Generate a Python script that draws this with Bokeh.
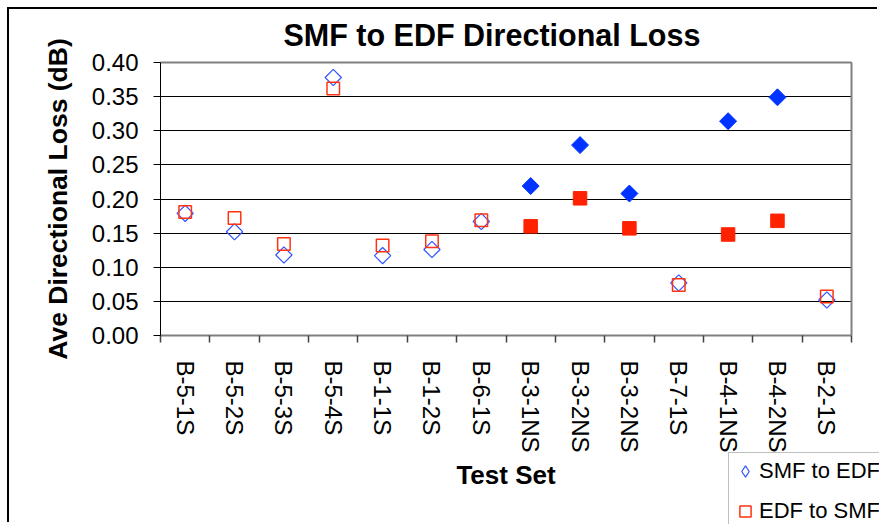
import numpy as np
from bokeh.plotting import figure
from bokeh.models import (Range1d, FixedTicker, ColumnDataSource, Legend,
                          LegendItem, NumeralTickFormatter, LinearAxis, Label)
from bokeh.embed import file_html
from bokeh.resources import INLINE

categories = ["B-5-1S", "B-5-2S", "B-5-3S", "B-5-4S", "B-1-1S", "B-1-2S",
              "B-6-1S", "B-3-1NS", "B-3-2NS", "B-3-2NS", "B-7-1S",
              "B-4-1NS", "B-4-2NS", "B-2-1S"]
smf_to_edf = [0.179, 0.152, 0.118, 0.378, 0.117, 0.126, 0.167,
              0.219, 0.279, 0.208, 0.077, 0.314, 0.349, 0.052]
edf_to_smf = [0.181, 0.172, 0.134, 0.362, 0.132, 0.138, 0.169,
              0.160, 0.201, 0.157, 0.074, 0.148, 0.168, 0.057]
y_ticks = [0.0, 0.05, 0.10, 0.15, 0.20, 0.25, 0.30, 0.35, 0.40]
title_text = "SMF to EDF Directional Loss"

FONT = "Liberation Sans"
BLUE = "#0033FF"
BLUE_LINE = "#3355FF"
RED = "#FF2200"
RED_LINE = "#FF3311"
GRAY = "#808080"

n = len(categories)
xs = [i + 0.5 for i in range(n)]
filled = [c.endswith("NS") for c in categories]
Y_MAX = 0.40

# layout (page pixels): canvas origin and plot-area box. The frame spans the
# whole canvas so that axes, title and legend are never clipped.
W, H = 870, 515
ORIGIN = 9
AREA_L, AREA_R, AREA_T, AREA_B = 160, 851, 62, 335
TITLE_LEFT, TITLE_BASE = 283, 34
frame_left, frame_top = ORIGIN, ORIGIN
frame_right, frame_bottom = ORIGIN + W, ORIGIN + H
cat_px = (AREA_R - AREA_L) / n
unit_px = (AREA_B - AREA_T) / Y_MAX
x_start = -(AREA_L - frame_left) / cat_px
x_end = n + (frame_right - AREA_R) / cat_px
y_start = -(frame_bottom - AREA_B) / unit_px
y_end = Y_MAX + (AREA_T - frame_top) / unit_px

def subset(vals, want):
    idx = [i for i in range(n) if filled[i] == want]
    return ColumnDataSource(dict(x=[xs[i] for i in idx], y=[vals[i] for i in idx]))

p = figure(width=W, height=H, output_backend="svg", toolbar_location=None,
           x_range=Range1d(x_start, x_end), y_range=Range1d(y_start, y_end),
           min_border_left=0, min_border_right=0,
           min_border_top=0, min_border_bottom=0)
p.styles = {"margin-left": "7px", "margin-top": "7px",
            "border-left": "2px solid black", "border-top": "2px solid black"}
p.outline_line_color = None

# title
p.add_layout(Label(x=(TITLE_LEFT - AREA_L) / cat_px,
                   y=Y_MAX + (AREA_T - TITLE_BASE) / unit_px,
                   text=title_text, text_font=FONT, text_font_size="30.5px",
                   text_font_style="bold", text_align="left",
                   text_baseline="alphabetic", text_color="black"))

# grids: horizontal lines only across the plot area
p.xgrid.grid_line_color = None
yg = p.ygrid[0]
if "cross_bounds" in yg.properties():
    yg.ticker = FixedTicker(ticks=y_ticks)
    yg.grid_line_color = "black"
    yg.grid_line_width = 1
    yg.cross_bounds = (0, n)
else:
    yg.grid_line_color = None
    p.segment(x0=[0] * len(y_ticks), x1=[n] * len(y_ticks), y0=y_ticks, y1=y_ticks,
              line_color="black", line_width=1)

# y axis, fixed at x = 0
p.yaxis.fixed_location = 0
p.yaxis.ticker = FixedTicker(ticks=y_ticks)
p.yaxis.bounds = (0, Y_MAX)
p.yaxis.formatter = NumeralTickFormatter(format="0.00")
p.yaxis.major_label_text_font = FONT
p.yaxis.major_label_text_font_size = "24px"
p.yaxis.major_label_text_color = "black"
p.yaxis.major_label_standoff = 15
p.yaxis.major_tick_out = 7
p.yaxis.major_tick_in = 0
p.yaxis.minor_tick_line_color = None
p.yaxis.axis_line_color = "black"
p.yaxis.major_tick_line_color = "black"
p.yaxis.axis_label = "Ave Directional Loss (dB)"
p.yaxis.axis_label_text_font = FONT
p.yaxis.axis_label_text_font_size = "26.5px"
p.yaxis.axis_label_text_font_style = "bold"
p.yaxis.axis_label_text_color = "black"
p.yaxis.axis_label_standoff = 16

# x axis, fixed at y = 0
p.xaxis.fixed_location = 0
p.xaxis.bounds = (0, n)
p.xaxis.ticker = FixedTicker(ticks=xs, minor_ticks=list(range(n + 1)))
p.xaxis.major_label_overrides = {x: c for x, c in zip(xs, categories)}
p.xaxis.major_label_orientation = "vertical"
p.xaxis.major_label_text_font = FONT
p.xaxis.major_label_text_font_size = "24px"
p.xaxis.major_label_text_color = "black"
p.xaxis.major_label_standoff = 18
p.xaxis.major_tick_line_color = None
p.xaxis.minor_tick_out = 7
p.xaxis.minor_tick_in = 0
p.xaxis.minor_tick_line_color = "#404040"
p.xaxis.minor_tick_line_width = 1.5
p.xaxis.axis_line_color = GRAY
p.xaxis.axis_line_width = 2
p.xaxis.axis_label = "Test Set"
p.xaxis.axis_label_text_font = FONT
p.xaxis.axis_label_text_font_size = "26px"
p.xaxis.axis_label_text_font_style = "bold"
p.xaxis.axis_label_text_color = "black"
p.xaxis.axis_label_standoff = 4

# plot-area border (top and right)
top_border = LinearAxis(fixed_location=Y_MAX, bounds=(0, n), ticker=FixedTicker(ticks=[]),
                        major_label_text_font_size="0px", axis_line_color=GRAY,
                        axis_line_width=2, major_tick_line_color=None,
                        minor_tick_line_color=None)
right_border = LinearAxis(fixed_location=n, bounds=(0, Y_MAX), ticker=FixedTicker(ticks=[]),
                          major_label_text_font_size="0px", axis_line_color=GRAY,
                          axis_line_width=2, major_tick_line_color=None,
                          minor_tick_line_color=None)
p.add_layout(top_border, "above")
p.add_layout(right_border, "right")

# markers
smf_open = subset(smf_to_edf, False)
r_smf_h = p.scatter("x", "y", source=smf_open, marker="square",
                    angle=np.pi / 4, size=11.5, fill_color=None,
                    line_color=BLUE_LINE, line_width=1.2)
r_smf_f = p.scatter("x", "y", source=subset(smf_to_edf, True), marker="square",
                    angle=np.pi / 4, size=12, fill_color=BLUE,
                    line_color=BLUE, line_width=1)
r_edf_h = p.scatter("x", "y", source=subset(edf_to_smf, False), marker="square",
                    size=12.5, fill_color=None, line_color=RED_LINE, line_width=1.5)
r_edf_f = p.scatter("x", "y", source=subset(edf_to_smf, True), marker="square",
                    size=13.5, fill_color=RED, line_color=RED, line_width=1)

# legend key for the diamond series (legend keys are drawn unrotated);
# zero size on the plot, the legend sizes its key itself
smf_key = p.scatter("x", "y", source=smf_open, marker="diamond", size=0,
                    fill_color=None, line_color=BLUE_LINE, line_width=1.2)

legend = Legend(items=[LegendItem(label="SMF to EDF", renderers=[smf_key]),
                       LegendItem(label="EDF to SMF", renderers=[r_edf_h])],
                location=(728 - frame_left, -6))
legend.label_text_font = FONT
legend.label_text_font_size = "22px"
legend.label_text_color = "black"
legend.border_line_color = GRAY
legend.border_line_width = 1.5
legend.background_fill_color = "white"
legend.background_fill_alpha = 1
legend.glyph_width = 28
legend.glyph_height = 32
legend.label_standoff = 0
legend.spacing = 8
legend.padding = 2
legend.margin = 0
p.add_layout(legend, "center")

open("out.html", "w").write(file_html(p, INLINE))
